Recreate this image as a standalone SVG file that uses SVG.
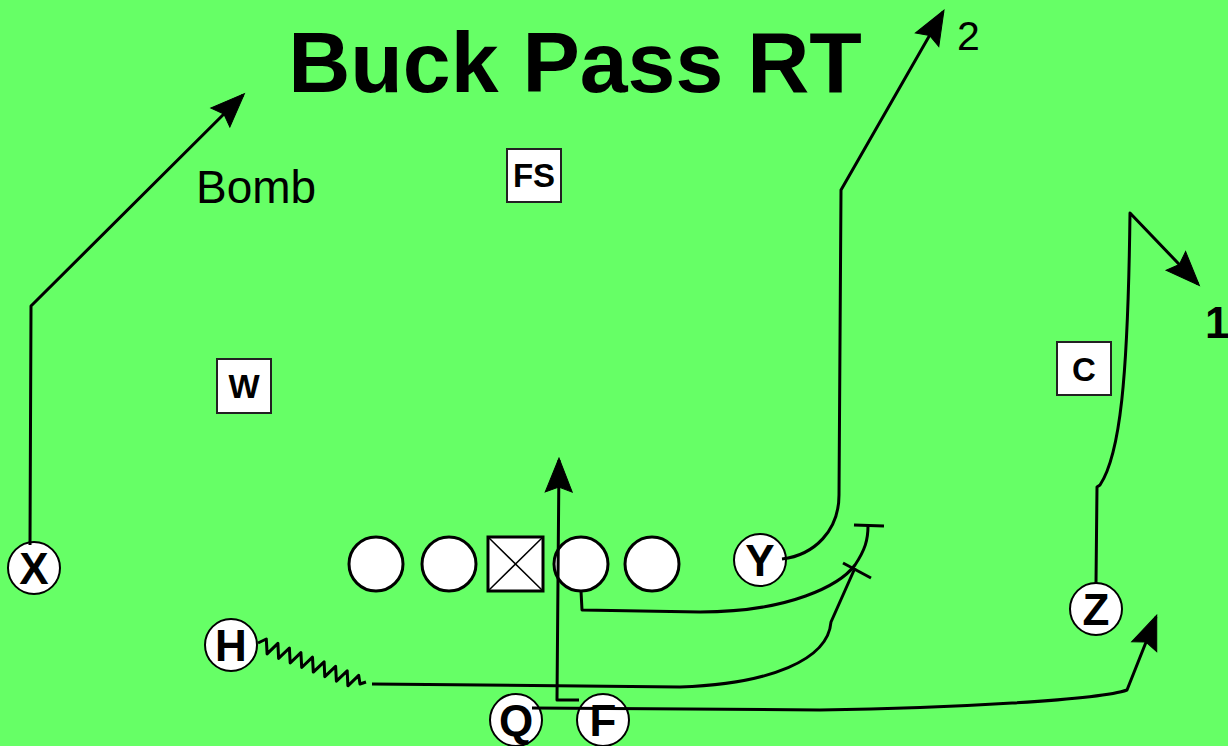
<svg xmlns="http://www.w3.org/2000/svg" width="1228" height="746" viewBox="0 0 1228 746">
<style>
.bg{fill:#66FF66}
.lbl{font-family:"Liberation Sans",Arial,sans-serif;fill:#000}
.b{font-weight:bold}
.off{fill:#fff;stroke:#000;stroke-width:2}
.line{fill:#fff;stroke:#000;stroke-width:3}
.def{fill:#fff;stroke:#222;stroke-width:2}
.route{fill:none;stroke:#000;stroke-width:3;stroke-linejoin:round}
.ptxt{font-family:"Liberation Sans",Arial,sans-serif;font-weight:bold;font-size:44px;text-anchor:middle}
.dtxt{font-family:"Liberation Sans",Arial,sans-serif;font-weight:bold;font-size:33px;text-anchor:middle}
</style>
<defs>
<marker id="arr" markerUnits="userSpaceOnUse" viewBox="-36 -16 38 32" refX="0" refY="0" markerWidth="38" markerHeight="32" orient="auto" overflow="visible">
<path d="M2,0 L-32,-13.5 L-27,0 L-32,13.5 Z" fill="#000" stroke="#000" stroke-width="1" stroke-linejoin="miter"/>
</marker>
</defs>
<rect class="bg" x="0" y="0" width="1228" height="746"/>
<text class="lbl b" x="575" y="92" font-size="86" text-anchor="middle">Buck Pass RT</text>
<text class="lbl" x="196" y="203" font-size="46">Bomb</text>
<text class="lbl" x="957" y="50" font-size="41">2</text>
<text class="lbl b" x="1205" y="338" font-size="44">1</text>

<g id="FS"><rect class="def" x="507" y="149" width="54" height="53"/><text class="dtxt" x="534" y="187">FS</text></g>
<g id="W"><rect class="def" x="217" y="359" width="54" height="54"/><text class="dtxt" x="244" y="398">W</text></g>
<g id="C"><rect class="def" x="1057" y="342" width="54" height="53"/><text class="dtxt" x="1084" y="381">C</text></g>

<g id="LT"><circle class="line" cx="376" cy="564" r="27"/></g>
<g id="LG"><circle class="line" cx="449" cy="564" r="27"/></g>
<g id="CEN"><rect class="line" x="488" y="537" width="55" height="54"/><path d="M488,537 L543,591 M543,537 L488,591" stroke="#000" stroke-width="1.5"/></g>
<g id="RG"><circle class="line" cx="581" cy="564" r="27"/></g>
<g id="RT"><circle class="line" cx="652" cy="564" r="27"/></g>

<g id="X"><circle class="off" cx="34" cy="568" r="26"/><text class="ptxt" x="34" y="584">X</text></g>
<g id="Y"><circle class="off" cx="760" cy="560" r="26"/><text class="ptxt" x="760" y="576">Y</text></g>
<g id="Z"><circle class="off" cx="1096" cy="609" r="26"/><text class="ptxt" x="1096" y="625">Z</text></g>
<g id="H"><circle class="off" cx="231" cy="645" r="26"/><text class="ptxt" x="231" y="661">H</text></g>
<g id="Q"><circle class="off" cx="516" cy="720" r="26"/><text class="ptxt" x="516" y="736">Q</text></g>
<g id="F"><circle class="off" cx="603" cy="720" r="26"/><text class="ptxt" x="603" y="736">F</text></g>

<g id="connectors">
<path class="route" d="M30,545 L31,306 L243,95" marker-end="url(#arr)"/>
<path class="route" d="M782,559 C815,555 839,530 839,495 L841,190 L943,12" marker-end="url(#arr)"/>
<path class="route" d="M1096,583 L1097,487 L1100,485 C1120,455 1128,380 1130,213 L1198,284" marker-end="url(#arr)"/>
<path class="route" d="M579,700 L557,700 L559,460" marker-end="url(#arr)"/>
<path class="route" d="M581,591 L582,610 L700,612 C790,612 840,585 855,565 C865,550 868,540 868,526"/>
<path class="route" d="M854,525 L884,526"/>
<path class="route" d="M258,643 L266.3,639 L267.1,653.9 L277.9,643.4 L278.6,658.4 L289.4,648 L290.2,663 L300.9,652.6 L301.7,667.5 L312.5,657.2 L313.3,672.1 L324.1,661.8 L324.8,676.7 L335.6,666.3 L336.4,681.2 L347.2,670.9 L347.9,685.8 L358.7,675.4 L360,684 L366,682"/>
<path class="route" d="M372,684 L680,687 C770,684 828,660 831,622 L855,568"/>
<path class="route" d="M843,563 L871,578"/>
<path class="route" d="M532,708 L820,710 C950,708 1100,700 1127,690 L1156,617" marker-end="url(#arr)"/>
</g>
</svg>
